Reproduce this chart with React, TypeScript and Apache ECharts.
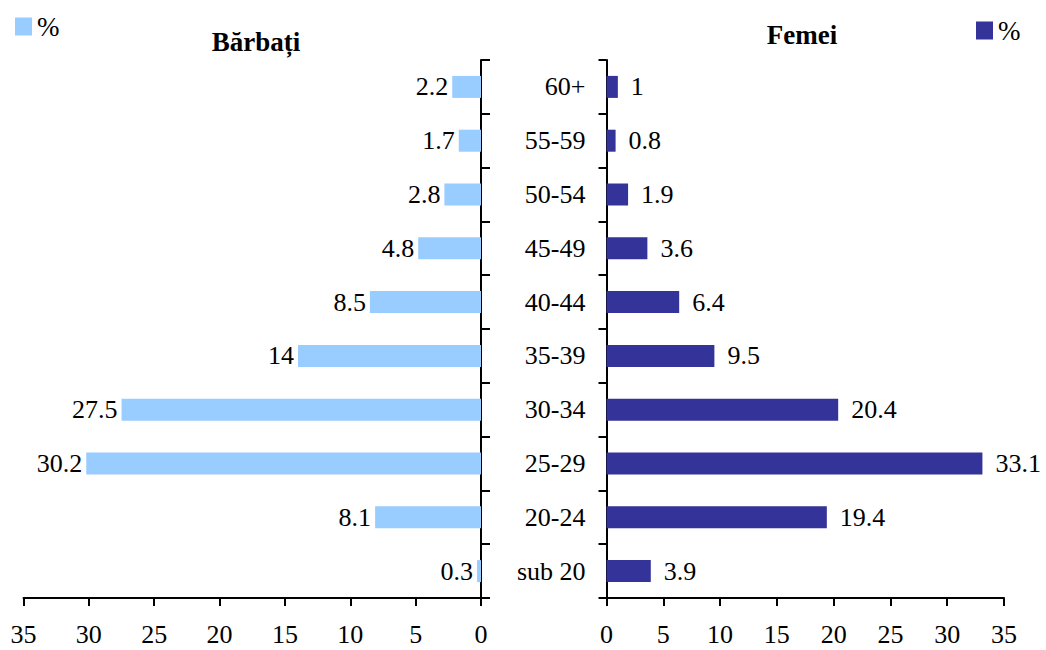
import React, { useEffect, useRef } from "react";
import * as echarts from "echarts";

const categories = ["sub 20", "20-24", "25-29", "30-34", "35-39", "40-44", "45-49", "50-54", "55-59", "60+"];
const barbati = [0.3, 8.1, 30.2, 27.5, 14, 8.5, 4.8, 2.8, 1.7, 2.2];
const femei = [3.9, 19.4, 33.1, 20.4, 9.5, 6.4, 3.6, 1.9, 0.8, 1];
const xTicks = { min: 0, max: 35, interval: 5 };
const titles = ["Bărbați", "Femei"];

const FONT = "Liberation Serif";

export default function App() {
  const ref = useRef<HTMLDivElement>(null);
  useEffect(() => {
    if (!ref.current) return;
    const chart = echarts.init(ref.current, null, { renderer: "svg" });
    const axisLine = { show: true, lineStyle: { color: "#000", width: 2 } };
    const axisTick = { show: true, length: 8, lineStyle: { color: "#000", width: 2 } };
    const txt = { fontFamily: FONT, fontSize: 26, color: "#000" };
    chart.setOption({
      animation: false,
      backgroundColor: "#fff",
      textStyle: { fontFamily: FONT },
      grid: [
        { left: 23.5, top: 60, width: 457.5, height: 538 },
        { left: 606.5, top: 60, width: 397.5, height: 538 },
      ],
      graphic: [
        {
          type: "text",
          x: 256,
          y: 42,
          style: { text: titles[0], fontFamily: FONT, fontSize: 27, fontWeight: "bold", fill: "#000", textAlign: "center", textVerticalAlign: "middle" },
        },
        {
          type: "text",
          x: 802,
          y: 35,
          style: { text: titles[1], fontFamily: FONT, fontSize: 27, fontWeight: "bold", fill: "#000", textAlign: "center", textVerticalAlign: "middle" },
        },
      ],
      legend: [
        {
          data: [titles[0]],
          left: 15,
          top: 13,
          padding: 0,
          icon: "rect",
          itemWidth: 17,
          itemHeight: 18,
          itemGap: 6,
          formatter: () => "%",
          textStyle: { ...txt, fontSize: 27 },
        },
        {
          data: [titles[1]],
          left: 976,
          top: 17,
          padding: 0,
          icon: "rect",
          itemWidth: 17,
          itemHeight: 18,
          formatter: () => "%",
          textStyle: { ...txt, fontSize: 27 },
        },
      ],
      xAxis: [
        {
          type: "value",
          gridIndex: 0,
          inverse: true,
          ...xTicks,
          splitLine: { show: false },
          axisLine,
          axisTick,
          axisLabel: { ...txt, margin: 23 },
        },
        {
          type: "value",
          gridIndex: 1,
          ...xTicks,
          splitLine: { show: false },
          axisLine,
          axisTick,
          axisLabel: { ...txt, margin: 23 },
        },
      ],
      yAxis: [
        {
          type: "category",
          gridIndex: 0,
          position: "right",
          data: categories,
          axisLine,
          axisTick: { ...axisTick, length: 9 },
          axisLabel: { show: false },
        },
        {
          type: "category",
          gridIndex: 1,
          position: "left",
          data: categories,
          axisLine,
          axisTick,
          axisLabel: { ...txt, margin: 21 },
        },
      ],
      series: [
        {
          name: titles[0],
          type: "bar",
          xAxisIndex: 0,
          yAxisIndex: 0,
          data: barbati,
          barWidth: 22,
          itemStyle: { color: "#99CCFF" },
          label: { show: true, position: "left", distance: 4, ...txt },
        },
        {
          name: titles[1],
          type: "bar",
          xAxisIndex: 1,
          yAxisIndex: 1,
          data: femei,
          barWidth: 22,
          itemStyle: { color: "#333399" },
          label: { show: true, position: "right", distance: 13, ...txt },
        },
      ],
    });
    return () => chart.dispose();
  }, []);
  return (
    <div
      ref={ref}
      style={{ position: "fixed", left: 0, top: 0, width: 1046, height: 650, background: "#fff" }}
    />
  );
}
